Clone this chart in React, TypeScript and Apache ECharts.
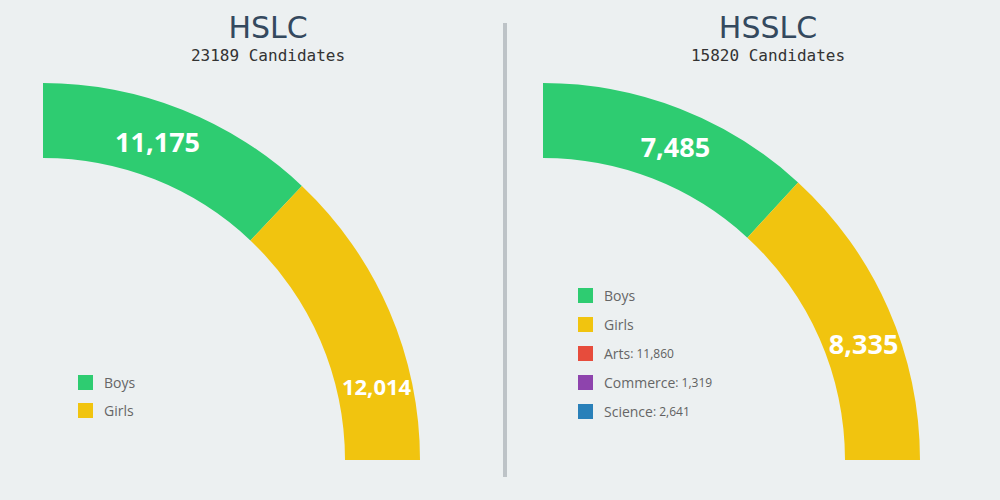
import React, { useEffect, useRef } from "react";
import * as echarts from "echarts";

const genders = ["Boys", "Girls"];
const hslcValues = [11175, 12014];
const hsslcValues = [7485, 8335];
const streams = ["Arts", "Commerce", "Science"];
const streamValues = [11860, 1319, 2641];
const titles = ["HSLC", "HSSLC"];
const subtitles = ["23189 Candidates", "15820 Candidates"];

const GREEN = "#2ecc71";
const YELLOW = "#f1c40f";
const streamColors = ["#e74c3c", "#8e44ad", "#2980b9"];

const fmt = (v: number) => v.toLocaleString("en-US");

export default function App() {
  const ref = useRef<HTMLDivElement>(null);
  useEffect(() => {
    if (!ref.current) return;
    const chart = echarts.init(ref.current, undefined, { renderer: "svg" });
    const streamMap: Record<string, number> = {};
    streams.forEach((s, i) => (streamMap[s] = streamValues[i]));

    const labelStyle = {
      show: true,
      position: "inside",
      color: "#ffffff",
      fontFamily: "Open Sans",
      fontWeight: "bold",
      fontSize: 27,
      formatter: (p: any) => fmt(p.value),
    };

    const pieBase = {
      type: "pie" as const,
      radius: [302, 377],
      startAngle: 90,
      endAngle: 0,
      clockwise: true,
      avoidLabelOverlap: false,
      emphasis: { disabled: true, scale: false },
      itemStyle: { borderWidth: 0 },
      label: labelStyle,
      labelLine: { show: false },
    };

    const legendText = {
      fontFamily: "Open Sans",
      fontSize: 14,
      color: "#666666",
      padding: [0, 0, 0, 6],
      rich: {
        v: { fontFamily: "Open Sans", fontSize: 12, color: "#606060" },
      },
    };

    const leftShifts = [
      { dx: -12, dy: 0 },
      { dx: 19, dy: 62 },
    ];
    const rightShifts = [
      { dx: 8, dy: 6 },
      { dx: 7, dy: 21 },
    ];

    chart.setOption({
      animation: false,
      backgroundColor: "#ecf0f1",
      title: titles.map((t, i) => ({
        text: t,
        subtext: subtitles[i],
        left: 263 + i * 500,
        top: 7,
        textAlign: "center",
        itemGap: 5,
        textStyle: {
          fontFamily: "DejaVu Sans",
          fontSize: 30,
          fontWeight: "normal",
          color: "#34495e",
        },
        subtextStyle: {
          fontFamily: "DejaVu Sans Mono",
          fontSize: 16,
          color: "#333333",
        },
      })),
      legend: [
        {
          orient: "vertical",
          left: 78,
          top: 375,
          padding: 0,
          itemWidth: 15,
          itemHeight: 15,
          itemGap: 13,
          icon: "rect",
          data: genders,
          selectedMode: false,
          textStyle: legendText,
        },
        {
          orient: "vertical",
          left: 578,
          top: 288,
          padding: 0,
          itemWidth: 15,
          itemHeight: 15,
          itemGap: 14,
          icon: "rect",
          data: [...genders, ...streams],
          selectedMode: false,
          textStyle: legendText,
          formatter: (name: string) =>
            streamMap[name] !== undefined
              ? `${name}{v|: ${fmt(streamMap[name])}}`
              : name,
        },
      ],
      graphic: [
        {
          type: "rect",
          shape: { x: 503, y: 23, width: 4, height: 454 },
          style: { fill: "#bdc3c7" },
          silent: true,
        },
      ],
      series: [
        {
          ...pieBase,
          name: "HSLC",
          center: [43, 460],
          data: genders.map((g, i) => ({
            name: g,
            value: hslcValues[i],
            itemStyle: { color: i === 0 ? GREEN : YELLOW },
            label: i === 1 ? { fontSize: 22 } : undefined,
          })),
          labelLayout: (p: any) => leftShifts[p.dataIndex] || {},
        },
        {
          ...pieBase,
          name: "HSSLC",
          center: [543, 460],
          data: genders.map((g, i) => ({
            name: g,
            value: hsslcValues[i],
            itemStyle: { color: i === 0 ? GREEN : YELLOW },
          })),
          labelLayout: (p: any) => rightShifts[p.dataIndex] || {},
        },
        {
          type: "pie",
          name: "Streams",
          center: [543, 460],
          radius: [0, 0],
          silent: true,
          label: { show: false },
          labelLine: { show: false },
          emphasis: { disabled: true },
          data: streams.map((s, i) => ({
            name: s,
            value: streamValues[i],
            itemStyle: { color: streamColors[i] },
          })),
        },
      ],
    });
    return () => chart.dispose();
  }, []);
  return (
    <div
      ref={ref}
      style={{ position: "absolute", left: 0, top: 0, width: 1000, height: 500 }}
    />
  );
}
